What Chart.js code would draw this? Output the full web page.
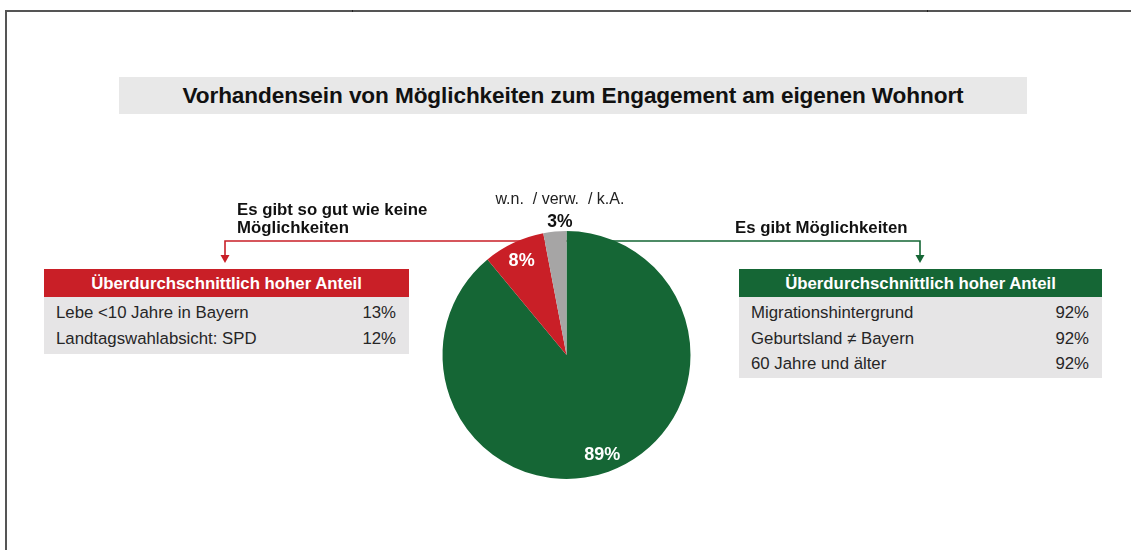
<!DOCTYPE html>
<html><head><meta charset="utf-8">
<script src="https://cdn.jsdelivr.net/npm/chart.js@4.4.1/dist/chart.umd.min.js"></script>
<style>
html,body{margin:0;padding:0;background:#fff;}
#wrap{position:relative;width:1131px;height:550px;overflow:hidden;font-family:"Liberation Sans",Arial,sans-serif;color:#1a1a1a;}
#c{position:absolute;left:0;top:0;}
.fl{position:absolute;background:#555;}
#title{position:absolute;left:119px;top:77px;width:908px;height:37px;background:#e8e8e8;text-align:center;line-height:38px;font-weight:bold;font-size:22.6px;letter-spacing:-0.1px;color:#111;white-space:nowrap;}
.ann{position:absolute;font-weight:bold;font-size:16.8px;line-height:18px;color:#111;white-space:nowrap;}
.box{position:absolute;}
.box .hd{height:28px;line-height:29px;color:#fff;font-weight:bold;font-size:16.8px;text-align:center;}
.box .bd{background:#e6e5e6;padding-top:3px;}
.box .row{height:25.5px;line-height:25.5px;font-size:16.8px;color:#262626;display:flex;justify-content:space-between;padding:0 13px 0 12px;}
</style></head>
<body>
<div id="wrap">
  <canvas id="c" width="1131" height="550"></canvas>
  <div class="fl" style="left:5px;top:10px;width:1126px;height:1.5px"></div>
  <div class="fl" style="left:5px;top:10px;width:1.5px;height:540px"></div>
  <div class="fl" style="left:352px;top:10px;width:1px;height:2px;background:#222"></div>
  <div class="fl" style="left:927px;top:10px;width:1px;height:2px;background:#222"></div>
  <div id="title"></div>
  <div id="annL" class="ann" style="left:237px;top:201px;"></div>
  <div id="annR" class="ann" style="left:735px;top:219px;"></div>
  <div id="boxL" class="box" style="left:44px;top:269px;width:365px;"></div>
  <div id="boxR" class="box" style="left:739px;top:269px;width:363px;"></div>
</div>
<script>
// ---- data ----
const chartTitle = "Vorhandensein von Möglichkeiten zum Engagement am eigenen Wohnort";
const categories = ["Es gibt Möglichkeiten", "Es gibt so gut wie keine Möglichkeiten", "w.n.  / verw.  / k.A."];
const values = [89, 8, 3];
const colors = ["#156635", "#c91f27", "#a6a5a5"];
const boxHeader = "Überdurchschnittlich hoher Anteil";
const leftLabels = ["Lebe <10 Jahre in Bayern", "Landtagswahlabsicht: SPD"];
const leftValues = [13, 12];
const rightLabels = ["Migrationshintergrund", "Geburtsland ≠ Bayern", "60 Jahre und älter"];
const rightValues = [92, 92, 92];

// ---- html parts ----
document.getElementById('title').textContent = chartTitle;
document.getElementById('annL').innerHTML = "Es gibt so gut wie keine<br>Möglichkeiten";
document.getElementById('annR').textContent = categories[0];
function buildBox(id, color, labels, vals, bodyH){
  const el = document.getElementById(id);
  const hd = document.createElement('div'); hd.className='hd'; hd.style.background=color; hd.textContent=boxHeader;
  const bd = document.createElement('div'); bd.className='bd'; bd.style.height=bodyH+'px';
  labels.forEach((l,i)=>{
    const r=document.createElement('div'); r.className='row';
    const a=document.createElement('span'); a.textContent=l;
    const b=document.createElement('span'); b.textContent=vals[i]+'%';
    r.appendChild(a); r.appendChild(b); bd.appendChild(r);
  });
  el.appendChild(hd); el.appendChild(bd);
}
buildBox('boxL', colors[1], leftLabels, leftValues, 54);
buildBox('boxR', colors[0], rightLabels, rightValues, 78);

// ---- plugins ----
const connectors = {
  id:'connectors',
  beforeDatasetsDraw(chart){
    const ctx=chart.ctx;
    const arc=chart.getDatasetMeta(0).data[0];
    const cx=arc.x;
    const y=241;
    function conn(color, xEnd){
      ctx.save();
      ctx.strokeStyle=color; ctx.lineWidth=1.6;
      ctx.beginPath(); ctx.moveTo(cx,y); ctx.lineTo(xEnd,y); ctx.lineTo(xEnd,256); ctx.stroke();
      ctx.fillStyle=color;
      ctx.beginPath(); ctx.moveTo(xEnd-4.5,255); ctx.lineTo(xEnd+4.5,255); ctx.lineTo(xEnd,263); ctx.closePath(); ctx.fill();
      ctx.restore();
    }
    conn(colors[1], 225);
    conn(colors[0], 920);
  }
};
const labelsPlugin = {
  id:'sliceLabels',
  afterDatasetsDraw(chart){
    const ctx=chart.ctx;
    const meta=chart.getDatasetMeta(0);
    const ds=chart.data.datasets[0].data;
    meta.data.forEach((arc,i)=>{
      const mid=(arc.startAngle+arc.endAngle)/2;
      const R=arc.outerRadius;
      ctx.save();
      ctx.textAlign='center'; ctx.textBaseline='middle';
      if(ds[i]>=5){
        const r=R*0.85;
        ctx.fillStyle='#fff';
        ctx.font='bold 18px "Liberation Sans", Arial, sans-serif';
        ctx.fillText(ds[i]+'%', arc.x+Math.cos(mid)*r, arc.y+Math.sin(mid)*r+1);
      } else {
        const r=R+10;
        const x=arc.x+Math.cos(mid)*r+6, y=arc.y+Math.sin(mid)*r+1;
        ctx.fillStyle='#111';
        ctx.font='bold 17.5px "Liberation Sans", Arial, sans-serif';
        ctx.fillText(ds[i]+'%', x, y);
        ctx.fillStyle='#222';
        ctx.font='16px "Liberation Sans", Arial, sans-serif';
        ctx.fillText(chart.data.labels[i], x, y-23);
      }
      ctx.restore();
    });
  }
};

new Chart(document.getElementById('c'), {
  type:'pie',
  data:{ labels:categories, datasets:[{ data:values, backgroundColor:colors, borderWidth:0 }] },
  options:{
    responsive:false, animation:false,
    layout:{ padding:{ left:442, right:440, top:231, bottom:71 } },
    plugins:{ legend:{display:false}, tooltip:{enabled:false}, title:{display:false} }
  },
  plugins:[connectors, labelsPlugin]
});
</script>
</body></html>
